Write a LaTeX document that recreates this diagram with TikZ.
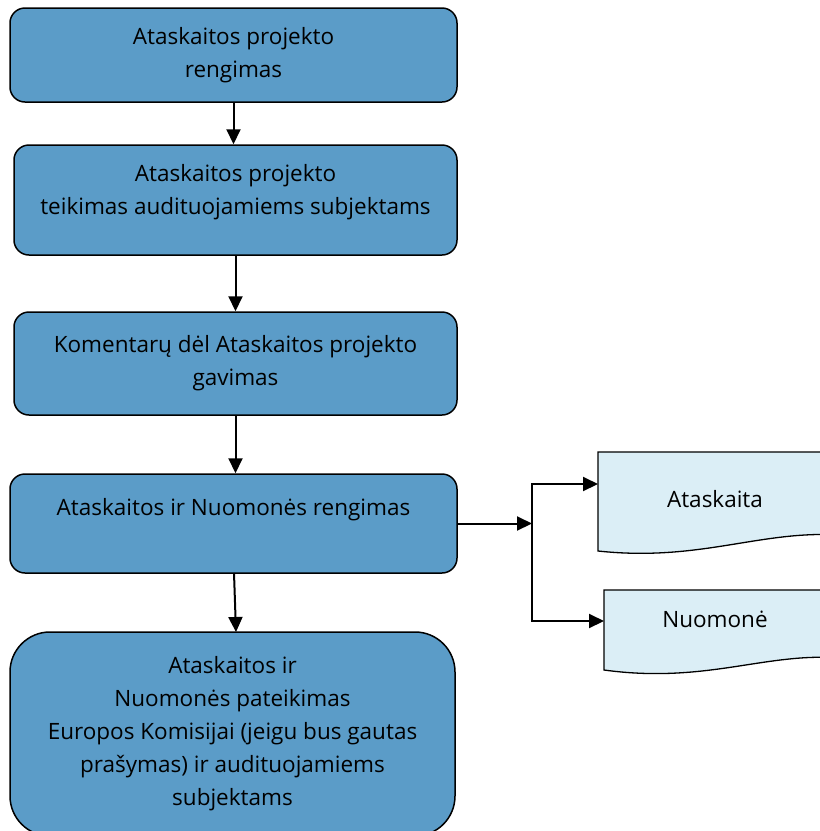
\documentclass[tikz,border=0pt]{standalone}
\usepackage{fontspec}
\setmainfont{Open Sans}
\usetikzlibrary{arrows.meta}
\definecolor{boxblue}{HTML}{5B9CC8}
\definecolor{docblue}{HTML}{DBEEF6}
\tikzset{
  proc/.style={draw=black, fill=boxblue, line width=1.5pt, rounded corners=15pt, align=center, inner sep=0pt,
    font=\fontsize{22.5}{33}\selectfont},
  arr/.style={line width=2pt, -{Triangle[length=15pt,width=14pt]}},
  docshape/.style={draw=black, fill=docblue, line width=1.3pt},
  doctext/.style={font=\fontsize{22.5}{33}\selectfont, inner sep=0pt}
}
\begin{document}
\begin{tikzpicture}[x=1pt,y=-1pt]
\useasboundingbox (0,0) rectangle (820,831);
\clip (0,0) rectangle (820,831);
\fill[white] (0,0) rectangle (820,831);
\node[proc, minimum width=447pt, minimum height=94pt] (b1) at (233.5,55) {Ataskaitos projekto\\rengimas};
\node[proc, minimum width=443pt, minimum height=110pt] (b2) at (235.5,200) {Ataskaitos projekto\\teikimas audituojamiems subjektams\\[-12pt]\mbox{}};
\node[proc, minimum width=443pt, minimum height=103pt] (b3) at (235.5,363.5) {Komentarų dėl Ataskaitos projekto\\gavimas};
\node[proc, minimum width=447pt, minimum height=99pt] (b4) at (233.5,523.5) {Ataskaitos ir Nuomonės rengimas\\\mbox{}};
\node[proc, rounded corners=40pt, minimum width=445pt, minimum height=204pt] (b5) at (232.5,734) {Ataskaitos ir\\Nuomonės pateikimas\\Europos Komisijai (jeigu bus gautas\\prašymas) ir audituojamiems\\subjektams};
% documents
\draw[docshape] (598,551) -- (598,452) -- (840,452) -- (840,535) .. controls (760,530) and (700,562) .. (598,551) -- cycle;
\draw[docshape] (604,670) -- (604,590) -- (840,590) -- (840,658) .. controls (766,652) and (706,684) .. (604,670) -- cycle;
\node[doctext] (d1) at (715,499) {Ataskaita};
\node[doctext] (d2) at (715,619) {Nuomonė};
\coordinate (d1in) at (598,484);
\coordinate (d2in) at (604,621);
\coordinate (split) at (532,523.5);
% connectors
\draw[arr] (b1.south) -- (b1.south |- b2.north);
\draw[arr] (b2.south) -- (b2.south |- b3.north);
\draw[arr] (b3.south) -- (b3.south |- b4.north);
\draw[arr] (234,573) -- (236,632);
\draw[arr] (b4.east) -- (split);
\draw[arr] (split) |- (d1in);
\draw[arr] (split) |- (d2in);
\end{tikzpicture}
\end{document}
